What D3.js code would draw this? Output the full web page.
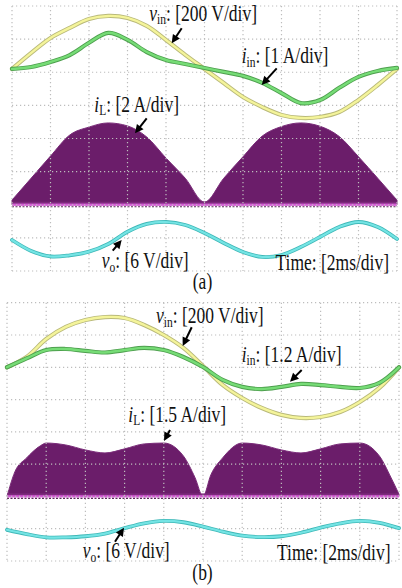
<!DOCTYPE html>
<html>
<head>
<meta charset="utf-8">
<script src="https://cdn.jsdelivr.net/npm/d3@7"></script>
<style>
  html, body { margin: 0; padding: 0; background: #fff; }
  svg { display: block; }
</style>
</head>
<body>
<svg id="chart" width="402" height="588"></svg>
<script>
// ---- sampled waveforms (time in divisions, 2 ms/div) ----
const tDiv = [0, 0.5, 1, 1.5, 2, 2.5, 3, 3.5, 4, 4.5, 5, 5.5, 6, 6.5, 7, 7.5, 8, 8.5, 9, 9.5, 10];

// (a) input voltage [V], input current [A], inductor current envelope [A], output ripple [V]
const vinA = [0, 97, 187, 248, 302, 320, 308, 260, 175, 85, 0, -85, -169, -230, -278, -296, -290, -260, -187, -97, 0];
const iinA = [0, 0.06, 0.21, 0.42, 0.79, 1.09, 0.88, 0.51, 0.27, 0.15, 0.03, -0.09, -0.21, -0.42, -0.73, -1.03, -0.94, -0.57, -0.24, -0.06, 0.03];
const iLA  = [0.28, 1.61, 2.94, 4.21, 4.69, 4.94, 4.76, 4.09, 2.82, 1.6, 0.16, 1.6, 2.9, 4.15, 4.72, 4.94, 4.74, 4.12, 2.9, 1.6, 0.28];
const voA  = [-0.38, -2.37, -3.37, -3.15, -2.5, -1.1, 1.1, 2.52, 2.88, 2.34, 0.89, -0.92, -2.56, -3.46, -3.1, -1.65, 0.16, 1.98, 2.88, 1.98, -0.2];

// (b)
const vinB = [0, 64, 175, 250, 293, 311, 305, 262, 200, 120, 8, -109, -190, -252, -295, -314, -308, -277, -215, -128, 0];
const iinB = [0, 0.33, 0.64, 0.68, 0.61, 0.55, 0.64, 0.72, 0.64, 0.38, 0.01, -0.47, -0.73, -0.81, -0.73, -0.62, -0.66, -0.73, -0.77, -0.58, 0];
const tLB  = [0, 0.2, 0.5, 0.85, 1, 1.5, 2, 2.5, 3, 3.5, 4, 4.5, 4.8, 5, 5.2, 5.5, 6, 6.5, 7, 7.5, 8, 8.5, 9, 9.5, 9.8, 10];
const iLB  = [0, 1.14, 1.79, 2.35, 2.48, 2.39, 2.16, 2.02, 2.21, 2.44, 2.48, 1.88, 0.86, 0, 1.0, 1.79, 2.48, 2.39, 2.16, 2.02, 2.21, 2.44, 2.48, 1.88, 0.86, 0.1];
const voB  = [-0.2, -1.0, -1.6, -1.6, -1.4, -0.9, 0.1, 1.0, 1.45, 1.2, 0.4, -0.55, -1.3, -1.55, -1.4, -0.75, 0.2, 1.0, 1.45, 1.1, 0.1];

// channel scale settings (units per division)
const scaleA = { vin: 200, iin: 1,   iL: 2,   vo: 6 };
const scaleB = { vin: 200, iin: 1.2, iL: 1.5, vo: 6 };

// ---- drawing ----
const svg = d3.select("#chart");
const FONT = '"Liberation Serif","Times New Roman",serif';

const panels = [
  {
    box: { x0: 12, x1: 397, y0: 6, y1: 271 },
    vin: vinA, iin: iinA, iL: iLA, tL: tDiv, vo: voA, sc: scaleA,
    ref: { vin: 2.1, iL: -2, vo: -3 },
    labels: [
      { x: 149.3, y: 20.5, main: "v", sub: "in", rest: `: [${scaleA.vin} V/div]` },
      { x: 241.7, y: 63,   main: "i", sub: "in", rest: `: [${scaleA.iin} A/div]` },
      { x: 94.3,  y: 111.5, main: "i", sub: "L", rest: `: [${scaleA.iL} A/div]` },
      { x: 101.7, y: 268,  main: "v", sub: "o", rest: `: [${scaleA.vo} V/div]` },
      { x: 275.5, y: 270,  rest: "Time: [2ms/div]" }
    ],
    arrows: [
      [[181.7, 28.3], [171.7, 43.3]],
      [[276.7, 68.3], [261.7, 85]],
      [[146.7, 118.3], [135, 133.3]],
      [[112.7, 250.7], [121.7, 240]]
    ],
    caption: { x: 202.5, y: 289, text: "(a)" }
  },
  {
    box: { x0: 7, x1: 399, y0: 302.7, y1: 561 },
    vin: vinB, iin: iinB, iL: iLB, tL: tLB, vo: voB, sc: scaleB,
    ref: { vin: 2, iL: -2, vo: -3 },
    labels: [
      { x: 156,   y: 323,   main: "v", sub: "in", rest: `: [${scaleB.vin} V/div]` },
      { x: 241.7, y: 361.5, main: "i", sub: "in", rest: `: [${scaleB.iin} A/div]` },
      { x: 128.3, y: 421.5, main: "i", sub: "L", rest: `: [${scaleB.iL} A/div]` },
      { x: 82.7,  y: 558,   main: "v", sub: "o", rest: `: [${scaleB.vo} V/div]` },
      { x: 277,   y: 559.5, rest: "Time: [2ms/div]" }
    ],
    arrows: [
      [[191.7, 327.3], [182.7, 346]],
      [[301.7, 370], [290, 381.7]],
      [[170, 430], [164, 441]],
      [[115, 541.7], [124, 527.7]]
    ],
    caption: { x: 202.5, y: 580, text: "(b)" }
  }
];

// vertical scale for a channel: screen divisions run from +4 (top) to -4 (bottom)
function channelScale(box, ref, perDiv) {
  return d3.scaleLinear()
    .domain([(-4 - ref) * perDiv, (4 - ref) * perDiv])
    .range([box.y1, box.y0]);
}

function drawTrace(g, xs, x, y, ts, vals, edge, core, wOuter, wInner) {
  const line = d3.line().x((d, i) => x(ts[i])).y(d => y(d)).curve(d3.curveCatmullRom.alpha(0.5));
  g.append("path").attr("d", line(vals)).attr("fill", "none")
    .attr("stroke", edge).attr("stroke-width", wOuter).attr("stroke-linejoin", "round").attr("stroke-linecap", "round");
  g.append("path").attr("d", line(vals)).attr("fill", "none")
    .attr("stroke", core).attr("stroke-width", wInner).attr("stroke-linejoin", "round").attr("stroke-linecap", "round");
}

function drawArrow(g, tail, head) {
  const dx = head[0] - tail[0], dy = head[1] - tail[1];
  const L = Math.hypot(dx, dy), ux = dx / L, uy = dy / L;
  const hl = 8.5, hw = 4.2;
  const bx = head[0] - ux * hl, by = head[1] - uy * hl;
  g.append("line").attr("x1", tail[0]).attr("y1", tail[1]).attr("x2", bx + ux * 1).attr("y2", by + uy * 1)
    .attr("stroke", "#000").attr("stroke-width", 2);
  g.append("path")
    .attr("d", `M${head[0]},${head[1]}L${bx - uy * hw},${by + ux * hw}L${bx + uy * hw},${by - ux * hw}Z`)
    .attr("fill", "#000");
}

function drawLabel(g, lb) {
  const t = g.append("text")
    .attr("transform", `translate(${lb.x},${lb.y}) scale(1,1.28)`)
    .attr("font-family", FONT).attr("font-size", 17.5).attr("fill", "#111");
  if (lb.main) t.append("tspan").attr("font-style", "italic").text(lb.main);
  if (lb.sub) t.append("tspan").attr("font-size", 11.5).attr("dy", 3).text(lb.sub);
  t.append("tspan").attr("dy", lb.sub ? -3 : 0).text(lb.rest);
}

panels.forEach(p => {
  const b = p.box;
  const g = svg.append("g");
  const x = d3.scaleLinear().domain([0, 10]).range([b.x0, b.x1]);
  const yDiv = d3.scaleLinear().domain([-4, 4]).range([b.y1, b.y0]);

  const yVin = channelScale(b, p.ref.vin, p.sc.vin);
  const yIin = channelScale(b, p.ref.vin, p.sc.iin);
  const yIL  = channelScale(b, p.ref.iL, p.sc.iL);
  const yVo  = channelScale(b, p.ref.vo, p.sc.vo);

  // inductor current: switching envelope filled down to its ground level
  const area = d3.area()
    .x((d, i) => x(p.tL[i])).y0(yIL(0)).y1(d => yIL(d))
    .curve(d3.curveMonotoneX);
  g.append("path").attr("d", area(p.iL)).attr("fill", "#6b1d6a")
    .attr("stroke", "#7a2c79").attr("stroke-width", 1);
  // ground band of the inductor current channel
  g.append("rect").attr("x", b.x0).attr("width", b.x1 - b.x0)
    .attr("y", yIL(0) - 3).attr("height", 3).attr("fill", "#7d2a7c");
  g.append("rect").attr("x", b.x0).attr("width", b.x1 - b.x0)
    .attr("y", yIL(0) - 1.2).attr("height", 2.2).attr("fill", "#d65ad6");
  g.append("line").attr("x1", b.x0).attr("x2", b.x1)
    .attr("y1", yIL(0) + 2).attr("y2", yIL(0) + 2)
    .attr("stroke", "#5a2a58").attr("stroke-width", 1.2).attr("stroke-dasharray", "2,1.5");

  // dotted graticule
  const grid = g.append("g").attr("stroke", "#bdbdbd").attr("stroke-width", 1.2).attr("stroke-dasharray", "1.2,2.8");
  grid.selectAll("line.v").data(d3.range(0, 11)).join("line").attr("class", "v")
    .attr("x1", d => x(d)).attr("x2", d => x(d)).attr("y1", b.y0).attr("y2", b.y1);
  grid.selectAll("line.h").data(d3.range(-4, 5)).join("line").attr("class", "h")
    .attr("x1", b.x0).attr("x2", b.x1).attr("y1", d => yDiv(d)).attr("y2", d => yDiv(d));

  // voltage / current traces
  drawTrace(g, tDiv, x, yVin, tDiv, p.vin, "#b9b97a", "#f4f49a", 4.2, 2.4);
  drawTrace(g, tDiv, x, yIin, tDiv, p.iin, "#4e9f4e", "#76dc76", 4.2, 2.4);
  drawTrace(g, tDiv, x, yVo,  tDiv, p.vo,  "#3fb8b8", "#74e4e4", 3.8, 2.2);

  p.arrows.forEach(a => drawArrow(g, a[0], a[1]));
  p.labels.forEach(lb => drawLabel(g, lb));

  g.append("text")
    .attr("transform", `translate(${p.caption.x},${p.caption.y}) scale(1,1.28)`)
    .attr("text-anchor", "middle").attr("font-family", FONT).attr("font-size", 17.5).attr("fill", "#111")
    .text(p.caption.text);
});
</script>
</body>
</html>
